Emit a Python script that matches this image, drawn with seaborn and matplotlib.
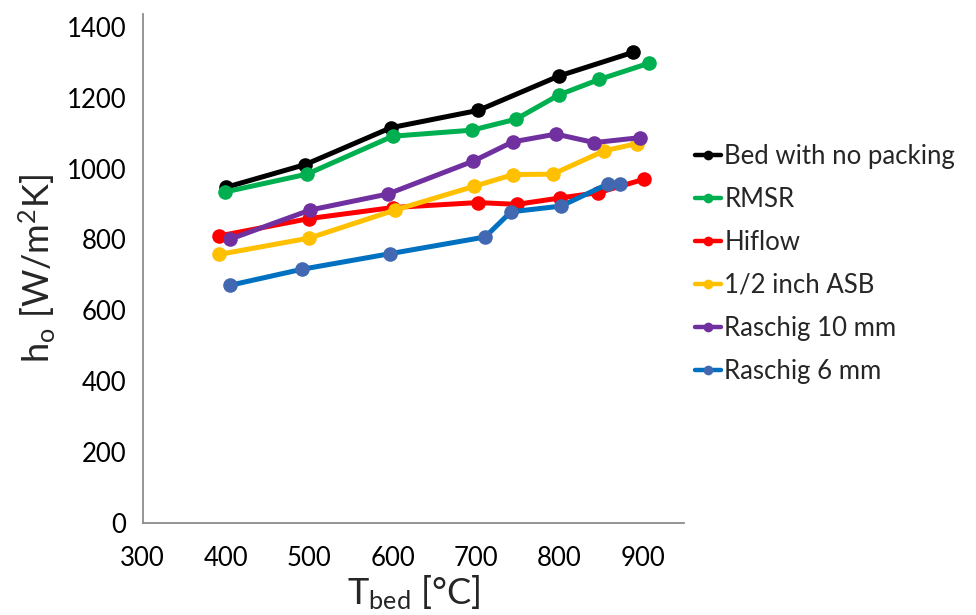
import matplotlib
matplotlib.use("Agg")
import matplotlib.pyplot as plt
from matplotlib.lines import Line2D
import seaborn as sns
import pandas as pd

# ---- data ----
series_names = ["Bed with no packing", "RMSR", "Hiflow", "1/2 inch ASB",
                "Raschig 10 mm", "Raschig 6 mm"]

t_nopack = [400, 495, 598, 703, 800, 888]
h_nopack = [947, 1011, 1115, 1164, 1261, 1327]

t_rmsr = [399, 497, 600, 695, 748, 800, 848, 908]
h_rmsr = [934, 984, 1091, 1108, 1139, 1208, 1251, 1297]

t_hiflow = [392, 500, 600, 702, 749, 801, 847, 902]
h_hiflow = [810, 859, 890, 904, 899, 917, 932, 970]

t_asb = [392, 500, 603, 698, 745, 792, 854, 893]
h_asb = [758, 804, 883, 950, 983, 984, 1050, 1070]

t_r10 = [405, 501, 594, 697, 744, 796, 842, 897]
h_r10 = [801, 883, 928, 1021, 1075, 1097, 1073, 1087]

t_r6 = [405, 491, 597, 711, 742, 802, 858, 873]
h_r6 = [671, 716, 760, 807, 878, 894, 956, 955]

line_colors = ["#000000", "#00B050", "#FF0000", "#FFC000", "#7030A0", "#0070C0"]
marker_colors = ["#000000", "#00B050", "#FF0000", "#FFC000", "#7030A0", "#4168B0"]

x_ticks = [300, 400, 500, 600, 700, 800, 900]
y_ticks = [0, 200, 400, 600, 800, 1000, 1200, 1400]

xs = [t_nopack, t_rmsr, t_hiflow, t_asb, t_r10, t_r6]
ys = [h_nopack, h_rmsr, h_hiflow, h_asb, h_r10, h_r6]

# ---- style ----
sns.set_theme(style="white")
plt.rcParams["font.family"] = ["Lato", "DejaVu Sans"]
plt.rcParams["mathtext.fontset"] = "custom"
plt.rcParams["mathtext.rm"] = "Lato"
plt.rcParams["mathtext.it"] = "Lato"

fig = plt.figure(figsize=(9.76, 6.15), dpi=100)
ax = fig.add_axes([0.1462, 0.149, 0.7011 - 0.1462, 0.977 - 0.149])

for name, x, y, lc, mc in zip(series_names, xs, ys, line_colors, marker_colors):
    df = pd.DataFrame({"T": x, "h": y})
    sns.lineplot(data=df, x="T", y="h", ax=ax, color=lc, linewidth=3.6,
                 marker="o", markersize=10.5, markerfacecolor=mc,
                 markeredgecolor=mc, markeredgewidth=0, legend=False,
                 sort=False)

ax.set_xlim(300, 950)
ax.set_ylim(0, 1435)
ax.set_xticks(x_ticks)
ax.set_yticks(y_ticks)
ax.tick_params(axis="both", direction="in", length=6.5, width=1,
               color="#808080", labelsize=18.5, labelcolor="#000000")
ax.tick_params(axis="x", pad=16)
ax.tick_params(axis="y", pad=12)

for s in ["top", "right"]:
    ax.spines[s].set_visible(False)
for s in ["left", "bottom"]:
    ax.spines[s].set_color("#8C8C8C")
    ax.spines[s].set_linewidth(1.3)

ax.set_xlabel(r"T$_\mathregular{bed}$ [°C]", fontsize=26, labelpad=2)
ax.set_ylabel(r"h$_\mathregular{o}$ [W/m$^\mathregular{2}$K]", fontsize=26, labelpad=6)

handles = [Line2D([], [], color=lc, linewidth=3.2, marker="o", markersize=7,
                  markerfacecolor=mc, markeredgecolor=mc, markeredgewidth=0)
           for lc, mc in zip(line_colors, marker_colors)]
fig.legend(handles, series_names, loc="center left",
           bbox_to_anchor=(0.712, 1 - 264 / 615), frameon=False,
           fontsize=18.5, handlelength=1.0, handletextpad=0.15,
           labelspacing=0.7, borderpad=0, borderaxespad=0)

fig.savefig("out.png", dpi=100)
